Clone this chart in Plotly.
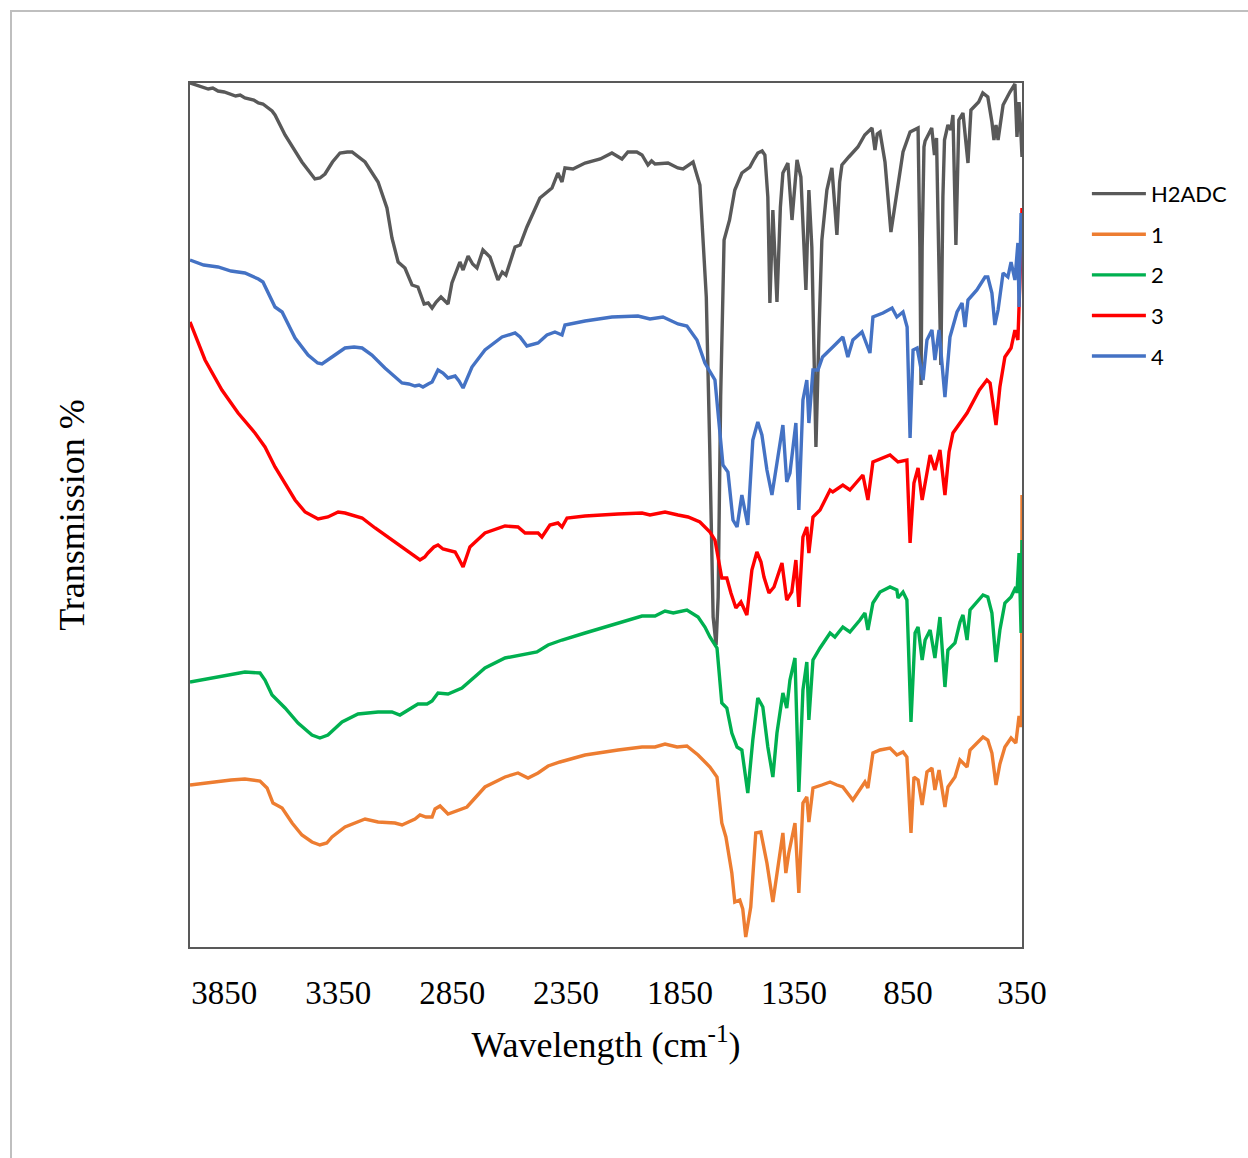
import plotly.graph_objects as go

# FTIR spectra (wavenumber cm-1, transmission arbitrary units)
h2adc = [(4000, 86.4), (3940, 86.0), (3920, 85.8), (3900, 85.9), (3877, 85.6), (3850, 85.5), (3820, 85.3),
         (3800, 85.1), (3780, 85.2), (3759, 84.9), (3720, 84.7), (3700, 84.4), (3680, 84.3), (3662, 84.0),
         (3640, 83.6), (3627, 83.2), (3583, 81.2), (3509, 78.5), (3452, 76.8), (3430, 76.9), (3408, 77.3),
         (3375, 78.5), (3342, 79.4), (3310, 79.5), (3289, 79.5), (3232, 78.5), (3175, 76.5), (3136, 73.9),
         (3114, 70.9), (3087, 68.5), (3057, 67.9), (3026, 66.2), (3000, 66.0), (2973, 64.3), (2955, 64.4),
         (2938, 63.9), (2920, 64.5), (2899, 65.0), (2880, 64.6), (2868, 64.3), (2851, 66.4), (2816, 68.5),
         (2802, 67.7), (2780, 69.1), (2760, 68.3), (2741, 67.9), (2715, 69.7), (2700, 69.4), (2684, 69.0),
         (2649, 66.7), (2630, 67.5), (2614, 67.2), (2574, 70.0), (2552, 70.2), (2522, 72.0), (2465, 74.9),
         (2412, 75.9), (2386, 77.4), (2368, 76.5), (2355, 77.9), (2320, 77.8), (2267, 78.4), (2200, 78.8),
         (2149, 79.4), (2105, 78.8), (2079, 79.5), (2040, 79.5), (2017, 79.2), (1991, 78.2), (1975, 78.6),
         (1960, 78.3), (1903, 78.4), (1860, 77.9), (1837, 77.8), (1793, 78.5), (1763, 76.2), (1750, 70.5),
         (1735, 65.0), (1720, 50.0), (1705, 33.0), (1692, 30.2), (1683, 35.0), (1672, 55.0), (1657, 70.7),
         (1633, 72.7), (1610, 75.7), (1579, 77.4), (1544, 78.0), (1525, 78.8), (1509, 79.4), (1490, 79.6),
         (1478, 79.2), (1465, 75.0), (1456, 64.4), (1443, 73.7), (1425, 64.5), (1410, 74.0), (1399, 77.4),
         (1377, 78.4), (1359, 72.7), (1337, 78.7), (1320, 77.0), (1298, 65.7), (1285, 75.7), (1272, 70.0),
         (1254, 50.0), (1240, 62.0), (1228, 70.7), (1206, 75.7), (1184, 77.9), (1170, 73.7), (1162, 71.2),
         (1150, 76.5), (1140, 78.2), (1110, 79.0), (1070, 80.0), (1040, 81.2), (1008, 81.9), (995, 79.7),
         (985, 81.3), (973, 81.5), (951, 78.5), (925, 71.5), (899, 75.5), (872, 79.5), (841, 81.5),
         (806, 81.9), (798, 70.0), (793, 56.2), (788, 70.0), (780, 80.0), (775, 80.6), (746, 81.9),
         (734, 79.2), (725, 80.9), (716, 70.0), (706, 58.2), (697, 75.0), (690, 80.7), (675, 82.2),
         (662, 81.7), (653, 83.2), (640, 70.2), (627, 82.7), (609, 83.4), (587, 78.4), (574, 83.7),
         (540, 84.5), (522, 85.4), (500, 85.0), (482, 82.5), (473, 80.7), (464, 82.2), (455, 80.7),
         (433, 84.2), (403, 85.5), (381, 86.3), (372, 81.0), (363, 84.5), (354, 81.0), (350, 79.0)]

s1 = [(4000, 16.2), (3877, 16.6), (3820, 16.7), (3759, 16.8), (3693, 16.6), (3662, 15.9), (3636, 14.4),
      (3596, 13.9), (3552, 12.4), (3509, 11.2), (3465, 10.5), (3430, 10.2), (3400, 10.4), (3377, 11.0),
      (3320, 12.0), (3232, 12.8), (3175, 12.5), (3101, 12.4), (3070, 12.2), (3013, 12.8), (2991, 13.2),
      (2965, 13.0), (2938, 13.0), (2925, 13.8), (2903, 14.1), (2868, 13.3), (2824, 13.7), (2785, 14.0),
      (2706, 16.0), (2618, 17.0), (2561, 17.4), (2517, 16.9), (2473, 17.4), (2429, 18.1), (2377, 18.5),
      (2267, 19.2), (2122, 19.7), (2017, 20.0), (1960, 20.0), (1916, 20.3), (1863, 20.0), (1820, 20.1),
      (1771, 19.2), (1741, 18.5), (1719, 18.0), (1688, 17.0), (1667, 12.4), (1649, 11.0), (1623, 7.4),
      (1610, 4.5), (1588, 4.7), (1575, 3.8), (1562, 1.0), (1540, 4.0), (1518, 11.4), (1496, 11.5),
      (1469, 8.4), (1443, 4.5), (1425, 7.4), (1399, 11.4), (1386, 7.4), (1373, 9.4), (1346, 12.4),
      (1329, 5.4), (1311, 14.4), (1294, 15.0), (1285, 12.5), (1267, 15.9), (1228, 16.2), (1192, 16.5),
      (1162, 16.2), (1136, 16.0), (1092, 14.7), (1061, 15.7), (1039, 16.5), (1026, 15.9), (1004, 19.4),
      (973, 19.7), (929, 19.9), (899, 19.2), (872, 19.5), (855, 19.0), (837, 11.4), (824, 17.0),
      (806, 16.7), (788, 14.2), (767, 17.5), (745, 17.9), (732, 15.7), (714, 17.7), (688, 14.0),
      (675, 16.0), (644, 17.0), (622, 18.7), (591, 18.0), (578, 19.7), (521, 21.0), (500, 20.7),
      (482, 19.4), (464, 16.2), (447, 18.3), (425, 20.0), (398, 20.9), (377, 20.4), (363, 23.1),
      (354, 22.0), (352, 23.0), (350, 45.2)]

s2 = [(4000, 26.5), (3877, 27.0), (3759, 27.5), (3693, 27.4), (3671, 26.7), (3640, 25.2), (3583, 23.9),
      (3526, 22.4), (3465, 21.2), (3430, 20.9), (3395, 21.2), (3333, 22.5), (3263, 23.3), (3175, 23.5),
      (3114, 23.5), (3079, 23.2), (3044, 23.7), (3000, 24.3), (2960, 24.3), (2938, 24.6), (2912, 25.4),
      (2868, 25.3), (2807, 25.9), (2706, 27.9), (2618, 28.9), (2530, 29.3), (2478, 29.5), (2429, 30.2),
      (2368, 30.7), (2267, 31.4), (2122, 32.4), (2017, 33.1), (1960, 33.1), (1916, 33.6), (1880, 33.4),
      (1859, 33.5), (1820, 33.7), (1771, 33.0), (1741, 32.0), (1719, 31.0), (1688, 29.9), (1667, 24.4),
      (1645, 23.9), (1623, 21.4), (1600, 20.0), (1579, 19.7), (1553, 15.4), (1531, 20.7), (1509, 24.9),
      (1487, 24.0), (1465, 20.0), (1443, 17.0), (1425, 21.4), (1399, 25.4), (1382, 23.9), (1368, 26.7),
      (1346, 28.9), (1329, 15.5), (1311, 25.7), (1294, 28.5), (1285, 22.7), (1267, 28.7), (1236, 29.9),
      (1192, 31.4), (1171, 31.0), (1136, 32.0), (1105, 31.5), (1061, 32.7), (1039, 33.4), (1026, 31.7),
      (1004, 34.4), (973, 35.5), (929, 36.0), (899, 35.7), (894, 34.9), (872, 35.5), (855, 34.7),
      (837, 22.5), (819, 31.4), (806, 32.0), (788, 28.7), (775, 30.7), (753, 31.7), (732, 28.9),
      (710, 33.0), (688, 26.0), (675, 29.7), (644, 30.4), (622, 32.5), (609, 33.2), (591, 30.7),
      (578, 33.7), (521, 35.2), (500, 35.0), (482, 33.4), (464, 28.5), (447, 31.7), (425, 34.4),
      (398, 35.0), (377, 36.0), (372, 35.4), (363, 39.4), (354, 31.4), (350, 40.7)]

s3 = [(4000, 62.5), (3934, 58.7), (3860, 55.7), (3789, 53.4), (3715, 51.4), (3671, 50.0), (3627, 48.0),
      (3583, 46.4), (3539, 44.7), (3495, 43.5), (3438, 42.8), (3395, 43.0), (3350, 43.5), (3320, 43.4),
      (3245, 42.9), (3188, 41.9), (3114, 40.7), (3066, 39.9), (3026, 39.3), (3005, 39.0), (2991, 38.7),
      (2970, 39.0), (2956, 39.4), (2930, 40.0), (2912, 40.2), (2890, 39.8), (2868, 39.7), (2837, 39.5),
      (2820, 38.8), (2802, 38.0), (2772, 40.0), (2706, 41.4), (2618, 42.1), (2561, 42.0), (2530, 41.4),
      (2473, 41.4), (2456, 41.0), (2421, 42.2), (2386, 42.4), (2368, 42.0), (2346, 42.9), (2267, 43.1),
      (2122, 43.3), (2017, 43.4), (1982, 43.2), (1916, 43.5), (1859, 43.2), (1815, 43.0), (1763, 42.5),
      (1741, 42.0), (1719, 41.5), (1697, 40.7), (1684, 39.0), (1667, 36.9), (1645, 36.9), (1627, 35.4),
      (1605, 33.9), (1583, 34.5), (1557, 33.2), (1535, 37.7), (1513, 39.5), (1495, 38.5), (1482, 37.0),
      (1460, 35.4), (1438, 36.0), (1403, 38.4), (1382, 34.7), (1360, 35.5), (1342, 38.7), (1329, 34.0),
      (1311, 41.0), (1294, 42.0), (1285, 39.4), (1267, 43.0), (1236, 43.7), (1192, 45.7), (1180, 45.5),
      (1136, 46.2), (1105, 45.7), (1048, 47.2), (1026, 44.7), (1004, 48.5), (929, 49.2), (894, 48.5),
      (855, 48.7), (841, 40.4), (824, 46.4), (806, 47.9), (788, 44.7), (753, 49.2), (732, 47.7),
      (710, 49.7), (688, 45.2), (670, 49.5), (653, 51.4), (591, 53.4), (537, 55.7), (504, 56.7),
      (490, 56.4), (478, 54.7), (464, 52.2), (447, 56.0), (425, 59.0), (398, 59.9), (381, 61.7),
      (368, 60.7), (363, 63.4), (354, 70.0), (350, 73.9)]

s4 = [(4000, 68.7), (3940, 68.2), (3877, 68.0), (3820, 67.6), (3759, 67.4), (3700, 66.8), (3680, 66.5),
      (3658, 65.4), (3627, 64.0), (3596, 63.5), (3539, 60.9), (3482, 59.2), (3440, 58.4), (3421, 58.3),
      (3400, 58.6), (3377, 59.0), (3320, 59.9), (3280, 60.0), (3245, 59.9), (3202, 59.2), (3145, 57.9),
      (3101, 57.0), (3070, 56.4), (3040, 56.3), (3013, 56.1), (2995, 56.2), (2978, 56.0), (2955, 56.3),
      (2938, 56.5), (2912, 57.7), (2890, 57.4), (2868, 56.9), (2837, 57.1), (2820, 56.6), (2802, 55.9),
      (2763, 58.0), (2706, 59.7), (2631, 61.0), (2574, 61.4), (2552, 61.0), (2522, 60.1), (2473, 60.4),
      (2434, 61.2), (2399, 61.5), (2368, 61.2), (2355, 62.2), (2267, 62.6), (2149, 63.0), (2035, 63.1),
      (1982, 62.8), (1925, 63.0), (1859, 62.3), (1820, 62.1), (1776, 60.7), (1741, 58.4), (1697, 56.7),
      (1675, 51.7), (1662, 48.2), (1640, 47.5), (1618, 42.7), (1600, 42.0), (1579, 45.2), (1553, 42.2),
      (1531, 50.7), (1509, 52.5), (1491, 51.2), (1469, 47.7), (1447, 45.2), (1425, 48.4), (1399, 52.2),
      (1382, 46.5), (1368, 47.4), (1342, 52.4), (1329, 43.7), (1311, 54.7), (1294, 56.7), (1285, 52.4),
      (1267, 57.7), (1245, 57.7), (1225, 59.0), (1180, 60.0), (1136, 61.0), (1114, 59.0), (1092, 60.7),
      (1052, 61.5), (1040, 60.7), (1017, 59.4), (1004, 63.0), (960, 63.4), (920, 63.9), (899, 63.0),
      (872, 63.5), (854, 62.0), (841, 50.9), (828, 59.7), (810, 59.9), (784, 56.7), (767, 60.7),
      (745, 61.7), (732, 58.7), (714, 61.7), (688, 55.0), (666, 61.0), (635, 63.5), (613, 64.4),
      (600, 62.0), (587, 64.7), (548, 65.7), (512, 67.0), (500, 67.0), (482, 65.4), (469, 62.2),
      (455, 63.7), (433, 67.4), (412, 67.0), (398, 68.5), (381, 66.7), (368, 70.4), (363, 64.0),
      (354, 73.4), (350, 70.0)]

series_names = ["H2ADC", "1", "2", "3", "4"]
series_data = [h2adc, s1, s2, s3, s4]
series_colors = ["#595959", "#ED7D31", "#00B050", "#FF0000", "#4472C4"]

x_ticks = [3850, 3350, 2850, 2350, 1850, 1350, 850, 350]

fig = go.Figure()
for name, data, color in zip(series_names, series_data, series_colors):
    fig.add_trace(go.Scatter(
        x=[p[0] for p in data], y=[p[1] for p in data], mode="lines", name=name,
        legendgroup=name, line=dict(color=color, width=3.4)))

serif = "Liberation Serif, Times New Roman, serif"
fig.update_layout(
    width=1248, height=1158,
    margin=dict(l=190, r=226, t=83, b=211),
    paper_bgcolor="white", plot_bgcolor="white",
    showlegend=True,
    legend=dict(x=1.078, y=0.896, xanchor="left", yanchor="top",
                font=dict(family="Lato, Calibri, sans-serif", size=22, color="#000000"),
                tracegroupgap=9, itemwidth=54, bgcolor="rgba(0,0,0,0)"),
    xaxis=dict(range=[4000, 350], tickvals=x_ticks, ticktext=[str(v) for v in x_ticks],
               showgrid=False, zeroline=False, showline=True, linecolor="#595959", linewidth=2,
               mirror=True, ticks="", ticklabelstandoff=15, automargin=True,
               tickfont=dict(family=serif, size=33, color="#000000"),
               title=dict(text="Wavelength (cm<sup>-1</sup>)", standoff=22,
                          font=dict(family=serif, size=36, color="#000000"))),
    yaxis=dict(range=[0, 86.4], showticklabels=False, showgrid=False, zeroline=False,
               showline=True, linecolor="#595959", linewidth=2, mirror=True, ticks="",
               automargin=False,
               title=dict(text="Transmission %", standoff=92,
                          font=dict(family=serif, size=36, color="#000000"))),
)

fig.add_shape(type="rect", xref="paper", yref="paper",
              x0=(11 - 190) / 832, x1=(1260 - 190) / 832,
              y0=(947 - 1170) / 864, y1=(947 - 11) / 864,
              line=dict(color="#BFBFBF", width=2), fillcolor="rgba(0,0,0,0)", layer="below")

fig.write_html("out.html")
